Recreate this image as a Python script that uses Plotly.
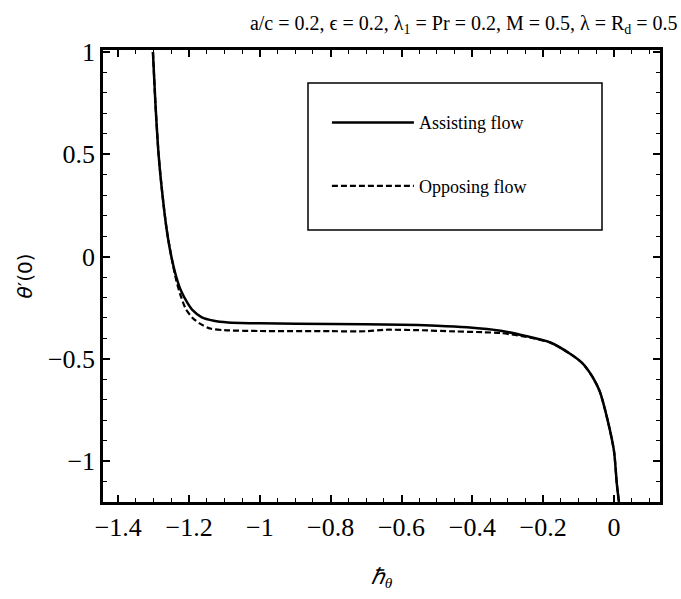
import plotly.graph_objects as go

# Assisting flow (solid)
assist_h = [-1.302, -1.295, -1.286, -1.275, -1.263, -1.25, -1.236, -1.222, -1.205, -1.19,
            -1.165, -1.13, -1.09, -1.0, -0.8, -0.6, -0.5, -0.415, -0.32, -0.246,
            -0.18, -0.124, -0.09, -0.06, -0.04, -0.02, 0.0, 0.008, 0.014]
assist_theta = [1.0, 0.75, 0.5, 0.3, 0.13, 0.0, -0.1, -0.17, -0.225, -0.262,
                -0.296, -0.314, -0.322, -0.326, -0.33, -0.333, -0.338, -0.346, -0.363, -0.39,
                -0.42, -0.475, -0.52, -0.59, -0.66, -0.785, -0.95, -1.11, -1.2]

# Opposing flow (dashed)
oppose_h = [-1.302, -1.295, -1.286, -1.275, -1.263, -1.25, -1.237, -1.224, -1.208, -1.19,
            -1.169, -1.14, -1.1, -1.0, -0.8, -0.7, -0.65, -0.55, -0.45, -0.37,
            -0.32, -0.25, -0.18, -0.124, -0.09, -0.06, -0.04, -0.02, 0.0, 0.008, 0.014]
oppose_theta = [1.0, 0.75, 0.5, 0.3, 0.13, 0.0, -0.11, -0.19, -0.26, -0.30,
                -0.328, -0.352, -0.36, -0.364, -0.365, -0.365, -0.358, -0.36, -0.366, -0.37,
                -0.374, -0.392, -0.42, -0.475, -0.52, -0.59, -0.66, -0.785, -0.95, -1.11, -1.2]

x_ticks = [-1.4, -1.2, -1.0, -0.8, -0.6, -0.4, -0.2, 0.0]
x_tick_text = ["−1.4", "−1.2", "−1", "−0.8", "−0.6", "−0.4", "−0.2", "0"]
y_ticks = [1.0, 0.5, 0.0, -0.5, -1.0]
y_tick_text = ["1", "0.5", "0", "−0.5", "−1"]

serif = "Liberation Serif, Times New Roman, serif"

fig = go.Figure()
fig.add_trace(go.Scatter(x=assist_h, y=assist_theta, mode="lines", name="Assisting flow",
                         legendgroup="a",
                         line=dict(color="black", width=2.5, shape="spline", smoothing=0.7)))
fig.add_trace(go.Scatter(x=oppose_h, y=oppose_theta, mode="lines", name="Opposing flow",
                         legendgroup="b",
                         line=dict(color="black", width=2.2, dash="6px,3px", shape="spline", smoothing=0.7)))

axis_common = dict(showline=True, linecolor="black", linewidth=2.5, mirror="allticks",
                   ticks="inside", ticklen=7, tickwidth=1.5, tickcolor="black",
                   showgrid=False, zeroline=False,
                   tickfont=dict(family=serif, size=26, color="black"))

fig.update_xaxes(range=[-1.443, 0.13], tickvals=x_ticks, ticktext=x_tick_text,
                 minor=dict(dtick=0.05, tick0=0, ticks="inside", ticklen=4, tickcolor="black", tickwidth=1),
                 title=dict(text="<i>ℏ<sub>θ</sub></i>", font=dict(family=serif, size=22, color="black"),
                            standoff=28),
                 **axis_common)
fig.update_yaxes(range=[-1.2, 1.01], tickvals=y_ticks, ticktext=y_tick_text,
                 minor=dict(dtick=0.1, tick0=0, ticks="inside", ticklen=4, tickcolor="black", tickwidth=1),
                 title=dict(text="<i>θ</i>′(0)", font=dict(family="DejaVu Sans, sans-serif", size=20, color="black"),
                            standoff=10),
                 **axis_common)

fig.update_layout(
    width=681, height=599,
    margin=dict(l=103, r=21, t=50, b=97),
    paper_bgcolor="white", plot_bgcolor="white",
    title=dict(text="a/c = 0.2, ϵ = 0.2, λ<sub>1</sub> = Pr = 0.2, M = 0.5, λ = R<sub>d</sub> = 0.5",
               font=dict(family=serif, size=20, color="black"),
               xref="container", x=0.995, xanchor="right", y=0.962, yanchor="middle"),
    legend=dict(x=0.402, y=0.88, xanchor="left", yanchor="top",
                bgcolor="rgba(0,0,0,0)", borderwidth=0,
                font=dict(family=serif, size=18, color="black"),
                tracegroupgap=37, itemwidth=82),
    showlegend=True,
    shapes=[dict(type="rect", xref="paper", yref="paper",
                 x0=(308 - 103) / 557, x1=(602 - 103) / 557,
                 y0=(502 - 230) / 452, y1=(502 - 83) / 452,
                 line=dict(color="black", width=1.5), fillcolor="rgba(0,0,0,0)")],
)

fig.write_html("out.html")
